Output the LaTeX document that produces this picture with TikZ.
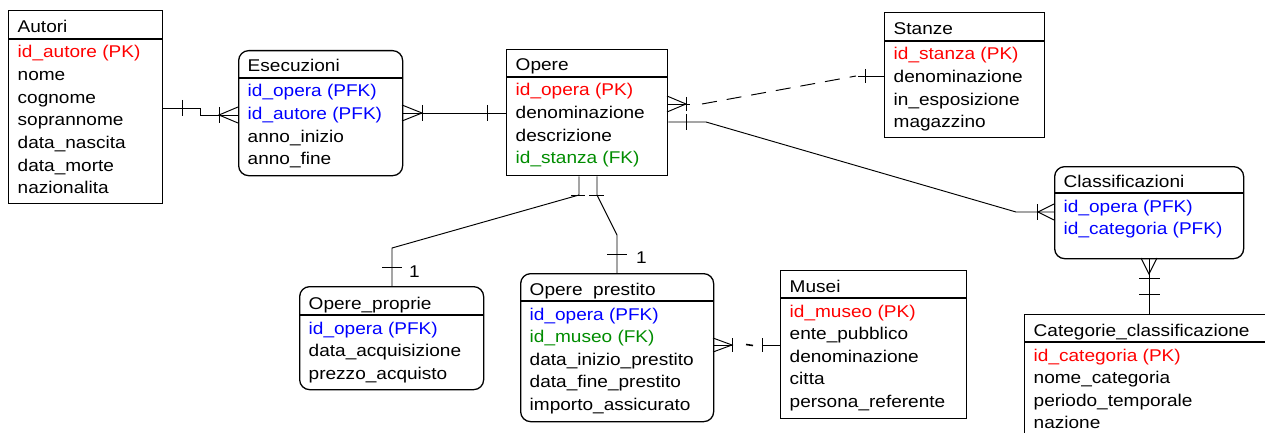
\documentclass[tikz,border=0pt]{standalone}
\usepackage{fontspec}
\setmainfont{Liberation Sans}[FakeStretch=1.12]
\definecolor{pkred}{RGB}{255,0,0}
\definecolor{pfkblue}{RGB}{0,0,255}
\definecolor{fkgreen}{RGB}{0,140,0}
\newcommand\entfont{\fontsize{17}{20}\selectfont}
\tikzset{
  ent/.style={draw, line width=1.3pt, inner sep=0pt, anchor=north west},
  rent/.style={ent, rounded corners=10pt},
  sepline/.style={line width=1.3pt},
  txt/.style={anchor=base west, inner sep=0pt, font=\entfont},
  pk/.style={txt, text=pkred},
  pfk/.style={txt, text=pfkblue},
  fk/.style={txt, text=fkgreen},
  conn/.style={line width=0.95pt},
  dashconn/.style={line width=0.95pt, dash pattern=on 15pt off 10pt},
}
\begin{document}
\begin{tikzpicture}[x=1pt,y=-1pt]
\useasboundingbox (0,0) rectangle (1265,433);
% ---------- Autori
\node[ent, minimum width=154pt, minimum height=193pt] (autori) at (8,10) {};
\draw[sepline] (8,39) -- (162,39);
\node[txt] (autori-t) at (17.5,33) {Autori};
\node[pk]  (autori-1) at (17.5,58) {id\_autore (PK)};
\node[txt] (autori-2) at (17.5,80.6) {nome};
\node[txt] (autori-3) at (17.5,103.2) {cognome};
\node[txt] (autori-4) at (17.5,125.8) {soprannome};
\node[txt] (autori-5) at (17.5,148.4) {data\_nascita};
\node[txt] (autori-6) at (17.5,171) {data\_morte};
\node[txt] (autori-7) at (17.5,193.6) {nazionalita};
% ---------- Esecuzioni
\node[rent, minimum width=164pt, minimum height=125pt] (esec) at (238,50) {};
\draw[sepline] (238,78) -- (402,78);
\node[txt] (esec-t) at (247.5,72) {Esecuzioni};
\node[pfk] (esec-1) at (247.5,97) {id\_opera (PFK)};
\node[pfk] (esec-2) at (247.5,119.6) {id\_autore (PFK)};
\node[txt] (esec-3) at (247.5,142.2) {anno\_inizio};
\node[txt] (esec-4) at (247.5,164.8) {anno\_fine};
% ---------- Opere
\node[ent, minimum width=161pt, minimum height=126pt] (opere) at (506,49) {};
\draw[sepline] (506,77) -- (667,77);
\node[txt] (opere-t) at (515.5,71) {Opere};
\node[pk]  (opere-1) at (515.5,96) {id\_opera (PK)};
\node[txt] (opere-2) at (515.5,118.6) {denominazione};
\node[txt] (opere-3) at (515.5,141.2) {descrizione};
\node[fk]  (opere-4) at (515.5,163.8) {id\_stanza (FK)};
% ---------- Stanze
\node[ent, minimum width=160pt, minimum height=125pt] (stanze) at (884,12) {};
\draw[sepline] (884,41) -- (1044,41);
\node[txt] (stanze-t) at (893.5,35) {Stanze};
\node[pk]  (stanze-1) at (893.5,60) {id\_stanza (PK)};
\node[txt] (stanze-2) at (893.5,82.6) {denominazione};
\node[txt] (stanze-3) at (893.5,105.2) {in\_esposizione};
\node[txt] (stanze-4) at (893.5,127.8) {magazzino};
% ---------- Classificazioni
\node[rent, minimum width=189pt, minimum height=92pt] (classif) at (1054,166) {};
\draw[sepline] (1054,193) -- (1243,193);
\node[txt] (classif-t) at (1063.5,187) {Classificazioni};
\node[pfk] (classif-1) at (1063.5,212) {id\_opera (PFK)};
\node[pfk] (classif-2) at (1063.5,234.6) {id\_categoria (PFK)};
% ---------- Opere_proprie
\node[rent, minimum width=184pt, minimum height=103pt] (proprie) at (299,286) {};
\draw[sepline] (299,315) -- (483,315);
\node[txt] (proprie-t) at (308.5,309) {Opere\_proprie};
\node[pfk] (proprie-1) at (308.5,334) {id\_opera (PFK)};
\node[txt] (proprie-2) at (308.5,356.6) {data\_acquisizione};
\node[txt] (proprie-3) at (308.5,379.2) {prezzo\_acquisto};
% ---------- Opere prestito
\node[rent, minimum width=193pt, minimum height=148pt] (prestito) at (520,273) {};
\draw[sepline] (520,301) -- (713,301);
\node[txt] (prestito-t) at (529.5,295) {Opere\ \ prestito};
\node[pfk] (prestito-1) at (529.5,320) {id\_opera (PFK)};
\node[fk]  (prestito-2) at (529.5,342.6) {id\_museo (FK)};
\node[txt] (prestito-3) at (529.5,365.2) {data\_inizio\_prestito};
\node[txt] (prestito-4) at (529.5,387.8) {data\_fine\_prestito};
\node[txt] (prestito-5) at (529.5,410.4) {importo\_assicurato};
% ---------- Musei
\node[ent, minimum width=186pt, minimum height=148pt] (musei) at (780,270) {};
\draw[sepline] (780,298) -- (966,298);
\node[txt] (musei-t) at (789.5,292) {Musei};
\node[pk]  (musei-1) at (789.5,317) {id\_museo (PK)};
\node[txt] (musei-2) at (789.5,339.6) {ente\_pubblico};
\node[txt] (musei-3) at (789.5,362.2) {denominazione};
\node[txt] (musei-4) at (789.5,384.8) {citta};
\node[txt] (musei-5) at (789.5,407.4) {persona\_referente};
% ---------- Categorie_classificazione
\node[ent, minimum width=260pt, minimum height=140pt] (categ) at (1024,314) {};
\draw[sepline] (1024,342) -- (1284,342);
\node[txt] (categ-t) at (1033.5,336) {Categorie\_classificazione};
\node[pk]  (categ-1) at (1033.5,361) {id\_categoria (PK)};
\node[txt] (categ-2) at (1033.5,383.6) {nome\_categoria};
\node[txt] (categ-3) at (1033.5,406.2) {periodo\_temporale};
\node[txt] (categ-4) at (1033.5,428.8) {nazione};

% ================= connectors
% Autori -- Esecuzioni
\draw[conn] (autori.east |- 0,108) -- (200,108) -- (200,115) -- (esec.west |- 0,115);
\draw[conn] (182,100) -- (182,116);
\draw[conn] (219,107) -- (219,123);
\draw[conn] (238,107) -- (219,115) -- (238,123);
% Esecuzioni -- Opere
\draw[conn] (esec.east |- 0,113) -- (opere.west |- 0,113);
\draw[conn] (402,105) -- (422,113) -- (402,121);
\draw[conn] (422,105) -- (422,121);
\draw[conn] (487,105) -- (487,121);
% Opere -- Stanze (dashed)
\draw[conn] (opere.east |- 0,104) -- (690,104);
\draw[conn] (667,96) -- (686,104) -- (667,112);
\draw[conn] (686,97) -- (686,111);
\draw[dashconn] (702,104) -- (856,76);
\draw[conn] (858,76) -- (stanze.west |- 0,76);
\draw[conn] (865,69) -- (865,83);
% Opere -- Classificazioni
\draw[conn] (opere.east |- 0,122) -- (706,122) -- (1016,212) -- (classif.west |- 0,212);
\draw[conn] (686,114) -- (686,130);
\draw[conn] (1037,204) -- (1037,220);
\draw[conn] (1054,204) -- (1038,212) -- (1054,220);
% Opere -- Opere_proprie
\draw[conn] (opere.south -| 579,0) -- (579,195) -- (392,248) -- (proprie.north -| 392,0);
\draw[conn] (571,195) -- (585,195);
\draw[conn] (382,267) -- (402,267);
\node[txt] (one-a) at (409,277) {1};
% Opere -- Opere prestito
\draw[conn] (opere.south -| 597,0) -- (597,195) -- (617,235) -- (prestito.north -| 617,0);
\draw[conn] (589,195) -- (604,195);
\draw[conn] (607,254) -- (627,254);
\node[txt] (one-b) at (636,263) {1};
% Opere prestito -- Musei
\draw[conn] (prestito.east |- 0,345) -- (732,345);
\draw[conn] (713,338) -- (732,345) -- (713,352);
\draw[conn] (732,338) -- (732,352);
\draw[line width=1.6pt] (746,344.5) -- (753,345.5);
\draw[conn] (762,345) -- (musei.west |- 0,345);
\draw[conn] (762,338) -- (762,352);
% Classificazioni -- Categorie
\draw[conn] (classif.south -| 1149,0) -- (categ.north -| 1149,0);
\draw[conn] (1141,258) -- (1149,274) -- (1157,258);
\draw[conn] (1139,278) -- (1160,278);
\draw[conn] (1139,294) -- (1160,294);
\end{tikzpicture}
\end{document}
